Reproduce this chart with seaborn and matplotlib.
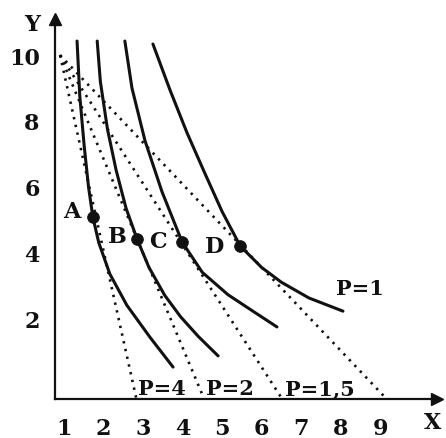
import matplotlib
matplotlib.use("Agg")
import matplotlib.pyplot as plt
import pandas as pd
import seaborn as sns

# Indifference curves, points listed from top to bottom (X, Y)
curve1_x = [1.33, 1.40, 1.51, 1.62, 1.73, 1.88, 2.16, 2.59, 3.18, 3.76]
curve1_y = [10.43, 8.75, 7.25, 6.00, 5.08, 4.30, 3.35, 2.40, 1.42, 0.52]
curve2_x = [1.84, 1.92, 2.10, 2.32, 2.57, 2.85, 3.15, 3.55, 3.95, 4.40, 4.90]
curve2_y = [10.43, 9.20, 7.75, 6.50, 5.35, 4.41, 3.55, 2.70, 2.05, 1.45, 0.86]
curve3_x = [2.54, 2.72, 3.05, 3.48, 3.99, 4.50, 5.15, 5.78, 6.39]
curve3_y = [10.43, 9.00, 7.40, 5.85, 4.32, 3.40, 2.72, 2.22, 1.74]
curve4_x = [3.25, 3.68, 4.11, 4.55, 5.00, 5.46, 6.00, 6.50, 7.20, 8.06]
curve4_y = [10.34, 8.95, 7.65, 6.45, 5.25, 4.20, 3.55, 3.10, 2.62, 2.22]

# Consumer optimum on each budget line
point_labels = ["A", "B", "C", "D"]
point_x = [1.73, 2.85, 3.99, 5.46]
point_y = [5.08, 4.41, 4.32, 4.20]

# Budget lines: shared Y intercept, X intercept for each price of X
price_labels = ["P=4", "P=2", "P=1,5", "P=1"]
budget_y_start = 10.0
budget_x_start = 0.9
budget_x_intercepts = [2.75, 4.39, 6.28, 8.81]

x_ticks = [1, 2, 3, 4, 5, 6, 7, 8, 9]
y_ticks = [2, 4, 6, 8, 10]

sns.set_theme(style="white")
plt.rcParams["font.family"] = ["DejaVu Serif"]
plt.rcParams["font.weight"] = "bold"

INK = "#111111"
XMIN, XMAX = 0.772, 10.44
YMIN, YMAX = -0.45, 11.10

fig = plt.figure(figsize=(4.46, 4.39), dpi=100)
ax = fig.add_axes([55 / 446, 39 / 439, 382 / 446, 380 / 439])

curves = pd.concat(
    [
        pd.DataFrame({"x": cx, "y": cy, "curve": name})
        for name, cx, cy in [
            ("U1", curve1_x, curve1_y),
            ("U2", curve2_x, curve2_y),
            ("U3", curve3_x, curve3_y),
            ("U4", curve4_x, curve4_y),
        ]
    ],
    ignore_index=True,
)
sns.lineplot(
    data=curves, x="x", y="y", units="curve", estimator=None, sort=False,
    color=INK, linewidth=2.2, ax=ax, legend=False,
)

# Budget lines run from the shared intercept down to the X axis line
for xi in budget_x_intercepts:
    x_end = budget_x_start + (xi - budget_x_start) * (budget_y_start - YMIN) / budget_y_start
    seg = pd.DataFrame({"x": [budget_x_start, x_end], "y": [budget_y_start, YMIN]})
    sns.lineplot(
        data=seg, x="x", y="y", sort=False, color=INK, linewidth=1.9,
        linestyle=(0, (0.9, 2.1)), ax=ax, legend=False,
    )

pts = pd.DataFrame({"x": point_x, "y": point_y})
sns.scatterplot(data=pts, x="x", y="y", color=INK, s=70, edgecolor=INK,
                zorder=5, ax=ax, legend=False)

# Point names
label_offsets = [(-0.53, 0.18), (-0.51, 0.09), (-0.61, 0.03), (-0.64, 0.0)]
for name, px, py, (dx, dy) in zip(point_labels, point_x, point_y, label_offsets):
    ax.text(px + dx, py + dy, name, fontsize=16, ha="center", va="center",
            color=INK)

# Price labels
price_pos = [(3.48, -0.30), (5.20, -0.30), (7.48, -0.30), (8.49, 2.75)]
for lab, (tx, ty) in zip(price_labels, price_pos):
    ax.text(tx, ty, lab, fontsize=15, ha="center", va="baseline", color=INK)

ax.set_xlim(XMIN, XMAX)
ax.set_ylim(YMIN, YMAX)
ax.set_xticks(x_ticks)
ax.set_xticklabels([str(t) for t in x_ticks])
ax.set_yticks(y_ticks)
ax.set_yticklabels([str(t) for t in y_ticks])
ax.tick_params(axis="both", length=0, labelsize=16, colors=INK)
ax.tick_params(axis="x", pad=13)
ax.tick_params(axis="y", pad=11)
ax.set_xlabel("")
ax.set_ylabel("")

for side in ["top", "right"]:
    ax.spines[side].set_visible(False)
for side in ["left", "bottom"]:
    ax.spines[side].set_color(INK)
    ax.spines[side].set_linewidth(1.6)

ax.plot(1, 0, ">", color=INK, ms=9, transform=ax.transAxes, clip_on=False)
ax.plot(0, 1, "^", color=INK, ms=9, transform=ax.transAxes, clip_on=False)

ax.text(10.34, -1.15, "X", fontsize=16, ha="center", va="center",
        color=INK, clip_on=False)
ax.text(0.19, 10.95, "Y", fontsize=16, ha="center", va="center",
        color=INK, clip_on=False)

fig.savefig("out.png", dpi=100)
